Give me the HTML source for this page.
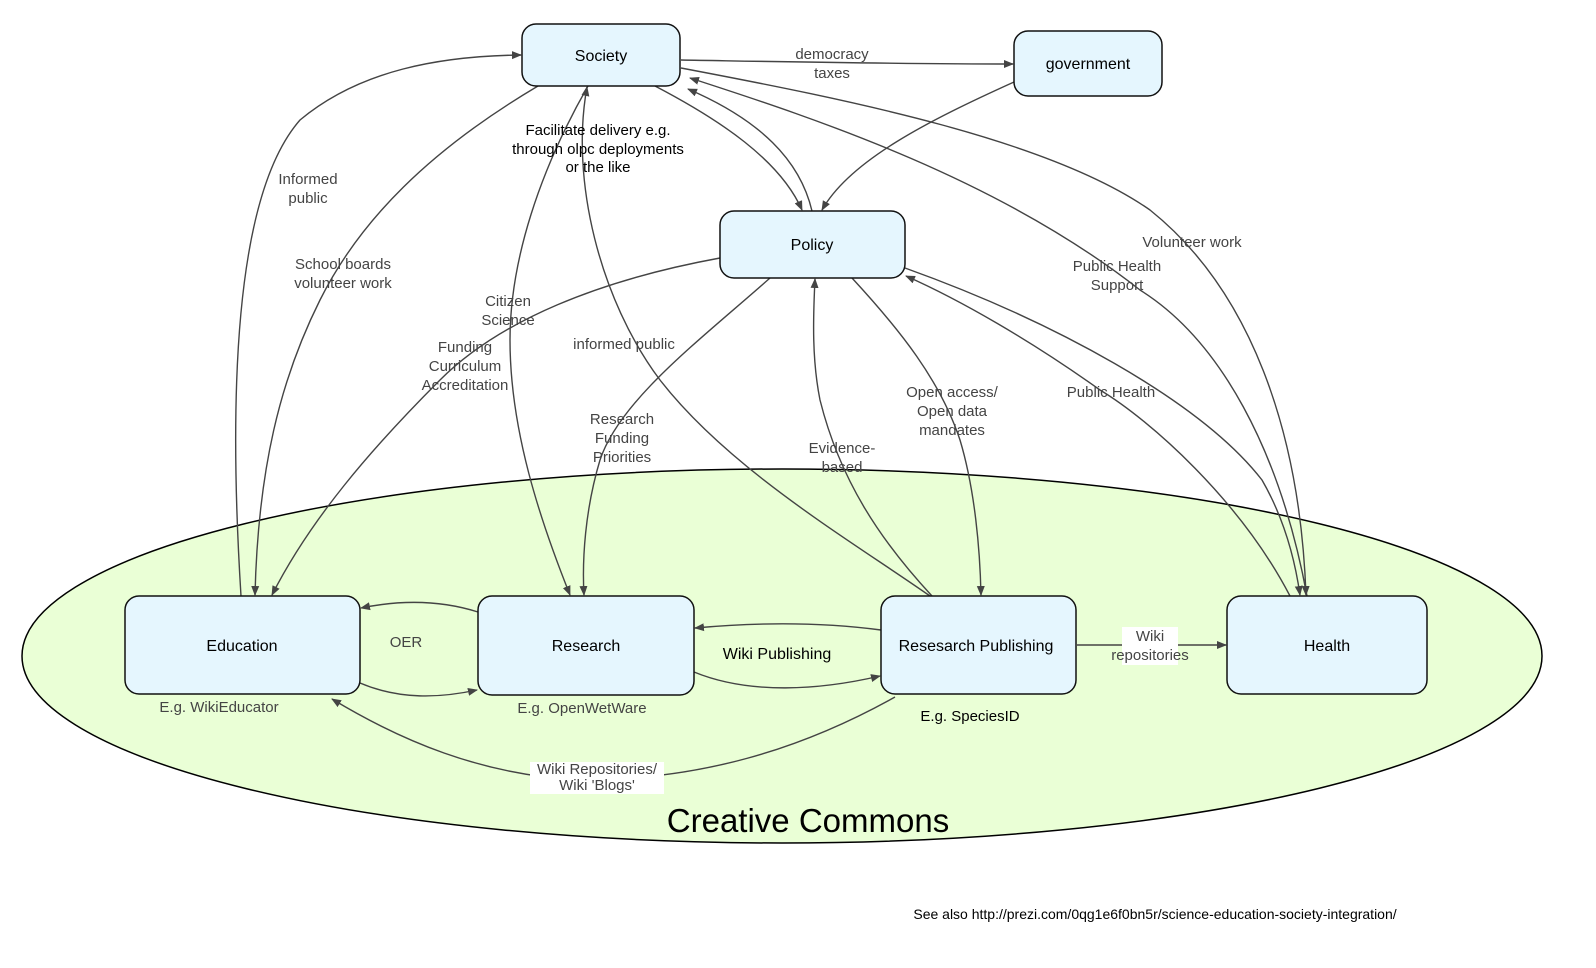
<!DOCTYPE html>
<html><head><meta charset="utf-8"><style>
html,body{margin:0;padding:0;background:#fff;}
svg{display:block;font-family:"Liberation Sans",Arial,sans-serif;}
.n{fill:#e5f6fe;stroke:#111;stroke-width:1.5;}
.e{fill:none;stroke:#444;stroke-width:1.4;}
.l{fill:#444;font-size:15px;text-anchor:middle;}
.k{fill:#000;font-size:16px;text-anchor:middle;}
</style></head><body>
<svg width="1596" height="968" viewBox="0 0 1596 968" xmlns="http://www.w3.org/2000/svg">
<defs><marker id="a" viewBox="0 0 10 10" refX="9" refY="5" markerWidth="10" markerHeight="10" markerUnits="userSpaceOnUse" orient="auto"><path d="M0,1 L10,5 L0,9 z" fill="#444"/></marker></defs>
<ellipse cx="782" cy="656" rx="760" ry="187" fill="#eaffd6" stroke="#000" stroke-width="1.5"/>
<text x="808" y="832" font-size="33" text-anchor="middle" fill="#000">Creative Commons</text>

<!-- edges -->
<path class="e" marker-end="url(#a)" d="M241,596 C230,420 230,200 300,120 C360,70 440,56 521,55"/>
<path class="e" marker-end="url(#a)" d="M538,86 C430,150 360,220 320,300 C280,380 258,470 255,595"/>
<path class="e" marker-end="url(#a)" d="M720,258 C600,280 500,320 440,380 C370,450 310,520 272,595"/>
<path class="e" marker-end="url(#a)" d="M588,86 C540,170 510,260 510,340 C510,430 540,520 570,595"/>
<path class="e" marker-end="url(#a)" d="M930,596 C850,540 730,470 660,380 C600,300 570,180 587,87"/>
<path class="e" marker-end="url(#a)" d="M655,86 C720,120 780,160 802,210"/>
<path class="e" marker-end="url(#a)" d="M812,211 C800,160 760,120 688,89"/>
<path class="e" marker-end="url(#a)" d="M681,60 C800,62 900,64 1013,64"/>
<path class="e" marker-end="url(#a)" d="M1014,82 C930,120 850,160 822,210"/>
<path class="e" marker-end="url(#a)" d="M681,68 C850,100 1050,140 1150,210 C1250,290 1300,430 1306,595"/>
<path class="e" marker-end="url(#a)" d="M1307,596 C1280,450 1220,340 1140,290 C1000,180 820,120 690,78"/>
<path class="e" marker-end="url(#a)" d="M770,278 C700,340 620,400 600,460 C585,510 582,560 584,595"/>
<path class="e" marker-end="url(#a)" d="M932,596 C880,540 840,480 820,400 C812,360 813,320 815,279"/>
<path class="e" marker-end="url(#a)" d="M852,278 C900,330 940,380 960,440 C975,490 980,550 981,595"/>
<path class="e" marker-end="url(#a)" d="M905,268 C1050,320 1200,400 1262,480 C1285,520 1295,560 1300,595"/>
<path class="e" marker-end="url(#a)" d="M1290,596 C1240,500 1150,420 1100,390 C1030,340 960,300 906,276"/>
<path class="e" marker-end="url(#a)" d="M478,612 C440,600 400,600 361,608"/>
<path class="e" marker-end="url(#a)" d="M360,683 C400,700 440,698 477,690"/>
<path class="e" marker-end="url(#a)" d="M881,630 C820,622 760,622 695,628"/>
<path class="e" marker-end="url(#a)" d="M694,672 C750,695 820,690 880,676"/>
<path class="e" marker-end="url(#a)" d="M895,697 C800,750 700,780 580,780 C480,775 400,740 332,699"/>
<path class="e" marker-end="url(#a)" d="M1077,645 L1226,645"/>

<!-- nodes -->
<rect class="n" x="522" y="24" width="158" height="62" rx="14"/>
<text class="k" x="601" y="61">Society</text>
<rect class="n" x="1014" y="31" width="148" height="65" rx="14"/>
<text class="k" x="1088" y="69">government</text>
<rect class="n" x="720" y="211" width="185" height="67" rx="14"/>
<text class="k" x="812" y="250">Policy</text>
<rect class="n" x="125" y="596" width="235" height="98" rx="14"/>
<text class="k" x="242" y="651">Education</text>
<rect class="n" x="478" y="596" width="216" height="99" rx="14"/>
<text class="k" x="586" y="651">Research</text>
<rect class="n" x="881" y="596" width="195" height="98" rx="14"/>
<text class="k" x="976" y="651">Resesarch Publishing</text>
<rect class="n" x="1227" y="596" width="200" height="98" rx="14"/>
<text class="k" x="1327" y="651">Health</text>

<!-- labels -->
<text class="l" x="832" y="59">democracy</text><text class="l" x="832" y="78">taxes</text>
<text x="598" y="135" font-size="15" fill="#000" text-anchor="middle">Facilitate delivery e.g.</text>
<text x="598" y="154" font-size="15" fill="#000" text-anchor="middle">through olpc deployments</text>
<text x="598" y="172" font-size="15" fill="#000" text-anchor="middle">or the like</text>
<text class="l" x="308" y="184">Informed</text><text class="l" x="308" y="203">public</text>
<text class="l" x="343" y="269">School boards</text><text class="l" x="343" y="288">volunteer work</text>
<text class="l" x="508" y="306">Citizen</text><text class="l" x="508" y="325">Science</text>
<text class="l" x="465" y="352">Funding</text><text class="l" x="465" y="371">Curriculum</text><text class="l" x="465" y="390">Accreditation</text>
<text class="l" x="624" y="349">informed public</text>
<text class="l" x="622" y="424">Research</text><text class="l" x="622" y="443">Funding</text><text class="l" x="622" y="462">Priorities</text>
<text class="l" x="842" y="453">Evidence-</text><text class="l" x="842" y="472">based</text>
<text class="l" x="952" y="397">Open access/</text><text class="l" x="952" y="416">Open data</text><text class="l" x="952" y="435">mandates</text>
<text class="l" x="1111" y="397">Public Health</text>
<text class="l" x="1117" y="271">Public Health</text><text class="l" x="1117" y="290">Support</text>
<text class="l" x="1192" y="247">Volunteer work</text>
<text class="l" x="406" y="647">OER</text>
<text class="k" x="777" y="659">Wiki Publishing</text>
<rect x="1122" y="627" width="56" height="38" fill="#fff"/>
<text class="l" x="1150" y="641">Wiki</text><text class="l" x="1150" y="660">repositories</text>
<text class="l" x="219" y="712">E.g. WikiEducator</text>
<text class="l" x="582" y="713">E.g. OpenWetWare</text>
<text x="970" y="721" font-size="15" fill="#000" text-anchor="middle">E.g. SpeciesID</text>
<rect x="530" y="762" width="134" height="32" fill="#fff"/>
<text class="l" x="597" y="774">Wiki Repositories/</text><text class="l" x="597" y="790">Wiki 'Blogs'</text>
<text x="1155" y="919" font-size="14" fill="#000" text-anchor="middle">See also http://prezi.com/0qg1e6f0bn5r/science-education-society-integration/</text>
</svg>
</body></html>
